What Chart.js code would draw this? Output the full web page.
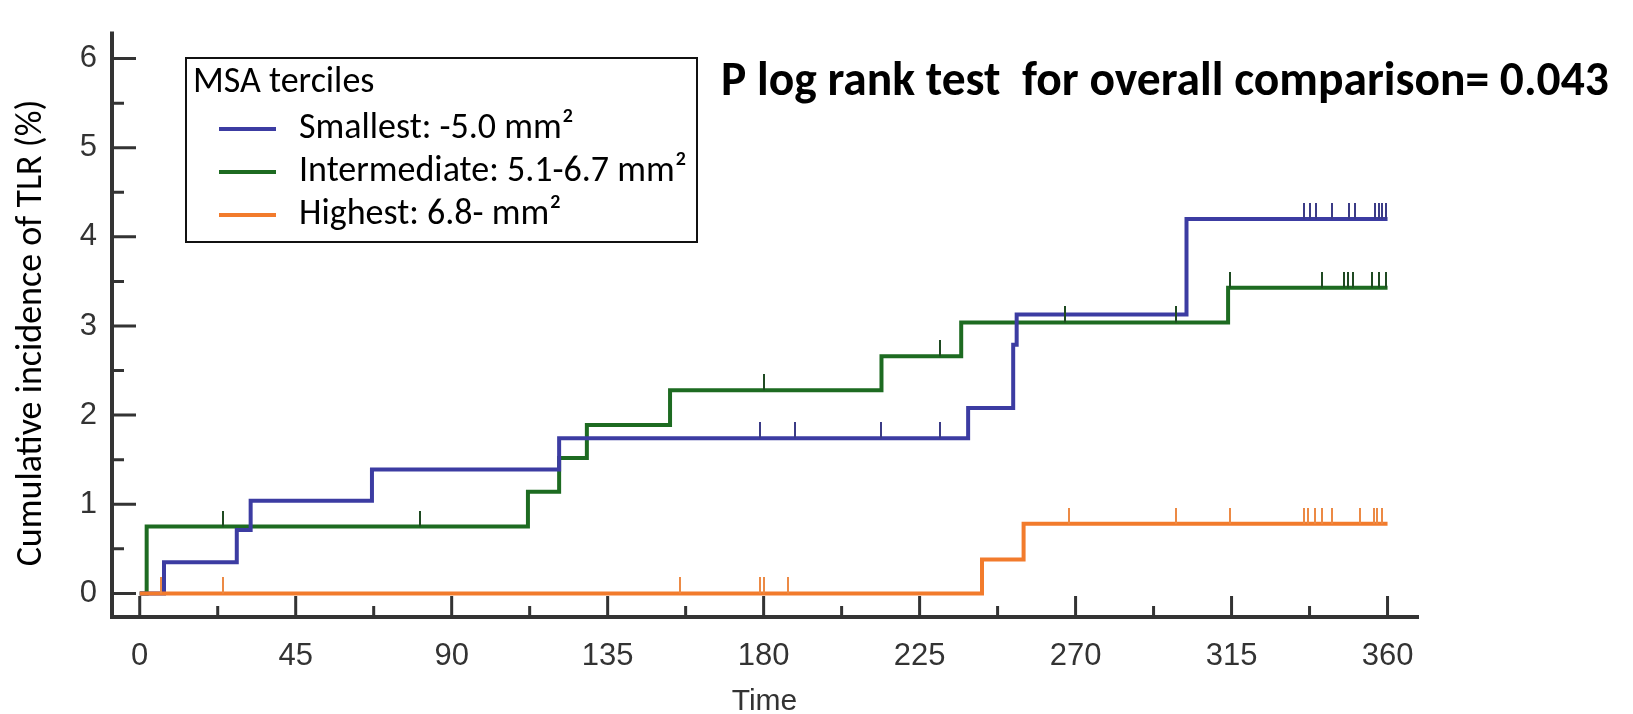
<!DOCTYPE html>
<html>
<head>
<meta charset="utf-8">
<title>Cumulative incidence of TLR by MSA terciles</title>
<script src="https://cdn.jsdelivr.net/npm/chart.js@4/dist/chart.umd.min.js"></script>
<style>
  html, body { margin: 0; padding: 0; background: #fff; }
  canvas { display: block; }
</style>
</head>
<body>
<canvas id="tlr" width="1633" height="714"></canvas>
<script>
var terciles = ["Smallest: -5.0 mm\u00b2", "Intermediate: 5.1-6.7 mm\u00b2", "Highest: 6.8- mm\u00b2"]
var colors = ["#3c3ca2", "#1d6b21", "#f27b2c"]
var markColors = ["#3b3b86", "#1f4a22", "#ec8a45"]

// day of each step and the cumulative incidence (%) from that day on
var smallT = [0, 7, 28, 32, 67, 121, 239, 252, 253, 302, 360]
var smallY = [0, 0.35, 0.71, 1.04, 1.39, 1.74, 2.08, 2.79, 3.13, 4.2, 4.2]
var interT = [0, 2, 112, 121, 129, 153, 214, 237, 314, 360]
var interY = [0, 0.75, 1.14, 1.52, 1.89, 2.28, 2.66, 3.04, 3.43, 3.43]
var highT = [0, 243, 255, 360]
var highY = [0, 0.38, 0.78, 0.78]

// censored follow-up (days)
var smallCens = [179, 189, 214, 231, 336, 337.5, 339.5, 344, 349, 350.5, 356.5, 357.5, 358.5, 359.5]
var interCens = [24, 81, 180, 231, 267, 299, 314.5, 341, 347.5, 348.5, 350, 355.5, 357.5, 359.5]
var highCens = [6, 24, 156, 179, 180, 187, 268, 299, 314.5, 336, 337, 339, 341, 344, 352, 356, 357, 358.5]

var xTicks = [0, 45, 90, 135, 180, 225, 270, 315, 360]
var yTicks = [0, 1, 2, 3, 4, 5, 6]

function steps(t, y) {
  return t.map((v, i) => ({x: v, y: y[i]}))
}

function levelAt(t, y, day) {
  var lv = y[0]
  t.forEach((v, i) => { if (v <= day) lv = y[i] })
  return lv
}

function marks(cens, t, y) {
  return cens.map(d => ({x: d, y: levelAt(t, y, d)}))
}

// small upward tick used as point style for censored cases
function tickMark(color) {
  var c = document.createElement("canvas")
  c.width = 2
  c.height = 32
  var g = c.getContext("2d")
  g.fillStyle = color
  g.fillRect(0, 0, 2, 16)
  return c
}

function mids(arr) {
  return arr.slice(1).map((v, i) => (v + arr[i]) / 2)
}

var curves = [[smallT, smallY, smallCens], [interT, interY, interCens], [highT, highY, highCens]]
var drawOrder = [1, 2, 0]
var datasets = []

curves.forEach((c, i) => {
  datasets.push({
    type: "line",
    label: terciles[i],
    data: steps(c[0], c[1]),
    borderColor: colors[i],
    backgroundColor: colors[i],
    borderWidth: 4,
    stepped: "before",
    pointRadius: 0,
    fill: false,
    order: drawOrder[i]
  })
})
curves.forEach((c, i) => {
  datasets.push({
    type: "scatter",
    label: terciles[i] + " censored",
    data: marks(c[2], c[0], c[1]),
    pointStyle: tickMark(markColors[i]),
    pointRadius: 3,
    order: -1
  })
})

var axisFont = "'Liberation Sans', Arial, sans-serif"
var textFont = "Carlito, Calibri, Lato, sans-serif"

// axis lines with inward major and minor ticks
var axesPlugin = {
  id: "axes",
  beforeDatasetsDraw(chart) {
    var ctx = chart.ctx, a = chart.chartArea
    var xs = chart.scales.x, ys = chart.scales.y
    ctx.save()
    ctx.strokeStyle = "#333"
    ctx.lineCap = "butt"
    ctx.lineWidth = 3
    ctx.beginPath()
    xTicks.forEach(v => { var p = xs.getPixelForValue(v); ctx.moveTo(p, a.bottom); ctx.lineTo(p, a.bottom - 21) })
    mids(xTicks).forEach(v => { var p = xs.getPixelForValue(v); ctx.moveTo(p, a.bottom); ctx.lineTo(p, a.bottom - 11) })
    yTicks.forEach(v => { var p = ys.getPixelForValue(v); ctx.moveTo(a.left, p); ctx.lineTo(a.left + 24, p) })
    mids(yTicks).forEach(v => { var p = ys.getPixelForValue(v); ctx.moveTo(a.left, p); ctx.lineTo(a.left + 12, p) })
    ctx.stroke()
    ctx.lineWidth = 4
    ctx.lineCap = "square"
    ctx.beginPath()
    ctx.moveTo(a.left, a.top)
    ctx.lineTo(a.left, a.bottom)
    ctx.lineTo(a.right, a.bottom)
    ctx.stroke()
    ctx.restore()
  }
}

// boxed legend, y-axis title and test result
var notesPlugin = {
  id: "notes",
  afterDraw(chart) {
    var ctx = chart.ctx
    ctx.save()
    ctx.fillStyle = "#fff"
    ctx.fillRect(186, 58, 511, 184)
    ctx.strokeStyle = "#111"
    ctx.lineWidth = 2
    ctx.strokeRect(186, 58, 511, 184)

    ctx.fillStyle = "#000"
    ctx.textAlign = "left"
    ctx.textBaseline = "middle"
    ctx.font = "36px " + textFont
    ctx.fillText("MSA terciles", 193, 83)
    var rows = [129, 172, 215]
    chart.data.datasets.slice(0, 3).forEach((ds, i) => {
      ctx.strokeStyle = ds.borderColor
      ctx.lineWidth = 4
      ctx.beginPath()
      ctx.moveTo(219, rows[i])
      ctx.lineTo(276, rows[i])
      ctx.stroke()
      ctx.fillText(ds.label, 299, rows[i])
    })

    ctx.font = "bold 47.5px " + textFont
    ctx.fillText("P log rank test  for overall comparison= 0.043", 721, 83)

    ctx.translate(32, 333)
    ctx.rotate(-Math.PI / 2)
    ctx.textAlign = "center"
    ctx.font = "36px " + textFont
    ctx.fillText("Cumulative incidence of TLR (%)", 0, 0)
    ctx.restore()
  }
}

new Chart("tlr", {
  type: "line",
  data: { datasets: datasets },
  plugins: [axesPlugin, notesPlugin],
  options: {
    responsive: false,
    animation: false,
    layout: { padding: { top: 10, right: 216, left: 0, bottom: 0 } },
    plugins: {
      legend: { display: false },
      tooltip: { enabled: false },
      title: { display: false }
    },
    scales: {
      x: {
        type: "linear",
        min: -8,
        max: 368.5,
        afterBuildTicks: s => { s.ticks = xTicks.map(v => ({value: v})) },
        afterFit: s => { s.height = 97 },
        grid: { display: false, drawTicks: false },
        border: { display: false },
        ticks: { autoSkip: false, maxRotation: 0, padding: 21, color: "#333", font: { family: axisFont, size: 31 } },
        title: { display: true, text: "Time", color: "#333", padding: 0, font: { family: axisFont, size: 30, lineHeight: 0.8 } }
      },
      y: {
        type: "linear",
        min: -0.265,
        max: 6.28,
        afterBuildTicks: s => { s.ticks = yTicks.map(v => ({value: v})) },
        afterFit: s => { s.width = 112 },
        grid: { display: false, drawTicks: false },
        border: { display: false },
        ticks: { padding: 15, color: "#333", font: { family: axisFont, size: 31 } }
      }
    }
  }
})
</script>
</body>
</html>
